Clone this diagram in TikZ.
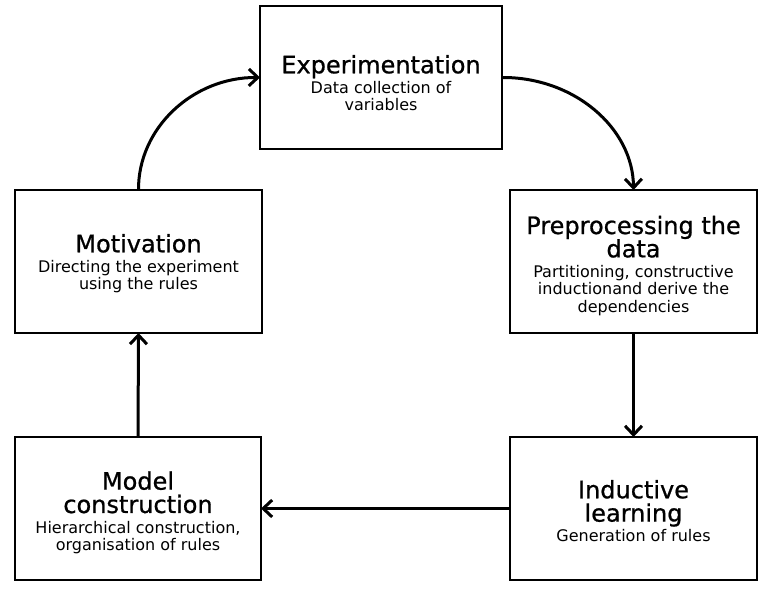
\documentclass[tikz,border=0pt]{standalone}
\usepackage{fontspec}
\setmainfont{DejaVu Sans}
\newfontfamily\titlefam[FakeBold=0.8]{DejaVu Sans}
\usetikzlibrary{arrows.meta}
\newcommand{\tfont}{\titlefam\fontsize{24}{24.5}\selectfont}
\newcommand{\sfont}{\fontsize{16}{17}\selectfont}
\tikzset{
  stagebox/.style={draw=black, line width=2.2pt, fill=white, rectangle,
    minimum width=#1, minimum height=143pt, inner sep=0pt, outer sep=0pt,
    font=\sfont, align=center},
  flow/.style={line width=3pt, -{Straight Barb[length=9pt,width=17pt]}},
}
\newcommand{\stagetext}[3][-5pt]{\renewcommand{\arraystretch}{1.0}\raisebox{#1}[\height][\depth]{\begin{tabular}{@{}c@{}}#2\\[3pt]#3\end{tabular}}}
\begin{document}
\begin{tikzpicture}[x=1pt,y=-1pt]
\useasboundingbox (0,0) rectangle (767,593);
\node[stagebox=242pt] (exp) at (381,77.5)
  {\stagetext[-8pt]{\tfont Experimentation}{Data collection of\\ variables}};
\node[stagebox=247pt] (pre) at (633.5,261.5)
  {\stagetext{\tfont Preprocessing the\\ \tfont data}{Partitioning, constructive\\ inductionand derive the\\ dependencies}};
\node[stagebox=247pt] (mot) at (138.5,261.5)
  {\stagetext[-3pt]{\tfont Motivation}{Directing the experiment\\ using the rules}};
\node[stagebox=246pt] (mod) at (138,508.5)
  {\stagetext{\tfont Model\\ \tfont construction}{Hierarchical construction,\\ organisation of rules}};
\node[stagebox=247pt] (ind) at (633.5,508.5)
  {\stagetext{\tfont Inductive\\ \tfont learning}{Generation of rules}};
\draw[flow] (mot.north) .. controls (138,128) and (193,77) .. (exp.west);
\draw[flow] (exp.east) .. controls (574,77) and (633,128) .. (pre.north);
\draw[flow] (pre.south) -- (ind.north);
\draw[flow] (ind.west) -- (mod.east);
\draw[flow] (mod.north) -- (mot.south);
\end{tikzpicture}
\end{document}
